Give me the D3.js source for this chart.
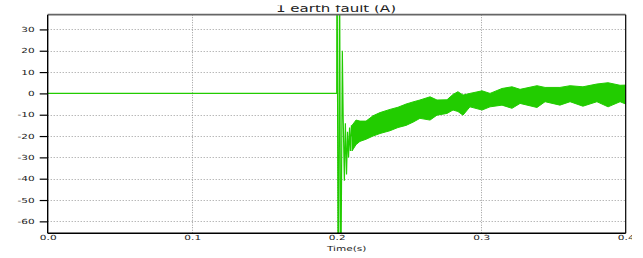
<!DOCTYPE html>
<html>
<head>
<meta charset="utf-8">
<script src="https://cdn.jsdelivr.net/npm/d3@7"></script>
<style>
  html, body { margin: 0; padding: 0; background: #fff; }
  svg { display: block; }
  text { font-family: "DejaVu Sans", sans-serif; }
</style>
</head>
<body>
<svg id="chart" width="643" height="258"></svg>
<script>
// ---- data ----
const titleText = "1 earth fault (A)";
const xAxisLabel = "Time(s)";
const xTicks = [0.0, 0.1, 0.2, 0.3, 0.4];
const xTickLabels = ["0.0", "0.1", "0.2", "0.3", "0.4"];
const yTicks = [30, 20, 10, 0, -10, -20, -30, -40, -50, -60];
const yTickLabels = ["30", "20", "10", "0", "-10", "-20", "-30", "-40", "-50", "-60"];

// pre-fault and transient trace (time s, current A)
const traceTime  = [0.0, 0.2000, 0.2002, 0.2011, 0.2020, 0.2028, 0.2039, 0.2045, 0.2053, 0.2060, 0.2068, 0.2075, 0.2082, 0.2089, 0.2095, 0.2102, 0.2106];
const traceValue = [0,   0,      90,     -120,   60,     -100,   20,     -12,    -41,    -14,    -38,    -18,    -30,    -16,    -27,    -15,    -20];

// post-fault oscillation envelope (dense ripple band)
const bandTime  = [0.2106, 0.2134, 0.2161, 0.2203, 0.2251, 0.2300, 0.2369, 0.2424, 0.2480, 0.2528, 0.2576, 0.2646, 0.2694, 0.2763, 0.2805, 0.2839, 0.2874, 0.2922, 0.3006, 0.3061, 0.3144, 0.3213, 0.3269, 0.3386, 0.3442, 0.3545, 0.3615, 0.3704, 0.3801, 0.3878, 0.3961, 0.4000];
const bandUpper = [-15,    -12.5,  -13,    -13,    -10.5,  -9,     -7.5,   -6.5,   -5,     -4,     -3.1,   -1.6,   -3.1,   -3,     -0.5,   0.8,    -0.8,   0,      1.2,    0,      2.3,    3.1,    1.9,    3.6,    2.8,    2.8,    3.6,    3.1,    4.4,    5,      3.8,    3.9];
const bandLower = [-27,    -24,    -22.5,  -21.5,  -20,    -18.8,  -17.5,  -16,    -15,    -13.5,  -11.7,  -12.5,  -10.2,  -9.4,   -7.8,   -8.5,   -10.2,  -6.3,   -7.8,   -6.3,   -5.5,   -7,     -4.7,   -6.6,   -3.9,   -5.5,   -3.9,   -6,     -3.9,   -6.3,   -3.9,   -5];

// ---- layout ----
const svg = d3.select("#chart");
const L = 47.7, R = 625.7, T = 14.7, B = 233.3;
const x = d3.scaleLinear().domain([0, 0.4]).range([L, R]);
const y = d3.scaleLinear().domain([-65.6, 36.9]).range([B, T]);
const green = "#22cc00";

svg.append("rect").attr("width", 643).attr("height", 258).attr("fill", "#fff");

const defs = svg.append("defs");
defs.append("clipPath").attr("id", "plotClip")
  .append("rect").attr("x", L).attr("y", T).attr("width", R - L).attr("height", B - T);
defs.append("clipPath").attr("id", "titleClip")
  .append("rect").attr("x", 0).attr("y", 5.2).attr("width", 643).attr("height", 10);
defs.append("clipPath").attr("id", "xAxisClip")
  .append("rect").attr("x", 0).attr("y", 0).attr("width", 632).attr("height", 258);

// grid
const grid = svg.append("g").attr("clip-path", "url(#plotClip)");
grid.selectAll("line.h").data(yTicks).join("line")
  .attr("x1", L).attr("x2", R)
  .attr("y1", d => Math.round(y(d)) + 0.5).attr("y2", d => Math.round(y(d)) + 0.5)
  .attr("stroke", "#9a9a9a").attr("stroke-width", 1).attr("stroke-dasharray", "1,2");
grid.selectAll("line.v").data(xTicks.filter(d => d > 0 && d < 0.4)).join("line")
  .attr("x1", d => Math.round(x(d)) + 0.5).attr("x2", d => Math.round(x(d)) + 0.5)
  .attr("y1", T).attr("y2", B)
  .attr("stroke", "#9a9a9a").attr("stroke-width", 1).attr("stroke-dasharray", "1,1.5");

// data
const plot = svg.append("g").attr("clip-path", "url(#plotClip)");
const band = bandTime.map((t, i) => ({ t, u: bandUpper[i], l: bandLower[i] }));
plot.append("path").datum(band)
  .attr("fill", green).attr("stroke", green).attr("stroke-width", 1)
  .attr("d", d3.area().x(d => x(d.t)).y0(d => y(d.l)).y1(d => y(d.u)));
const trace = traceTime.map((t, i) => ({ t, v: traceValue[i] }));
plot.append("path").datum(trace)
  .attr("fill", "none").attr("stroke", green).attr("stroke-width", 1.2)
  .attr("d", d3.line().x(d => x(d.t)).y(d => y(d.v)));

// stretch helper (the reference font is wide and short)
function stretch(sel, k) {
  sel.each(function () {
    const w = this.getComputedTextLength();
    d3.select(this).attr("textLength", w * k).attr("lengthAdjust", "spacingAndGlyphs");
  });
}

// y axis
const yAxis = svg.append("g").attr("transform", `translate(${L},0)`)
  .call(d3.axisLeft(y).tickValues(yTicks).tickSize(8).tickPadding(5)
    .tickFormat((d, i) => yTickLabels[i]));
yAxis.select(".domain").remove();
yAxis.selectAll(".tick line").attr("stroke", "#000").attr("stroke-width", 1.2);
yAxis.selectAll("text").attr("font-size", 7).attr("fill", "#222").attr("font-family", "DejaVu Sans");
stretch(yAxis.selectAll("text"), 1.5);

// x axis
const xAxis = svg.append("g").attr("transform", `translate(0,${B})`).attr("clip-path", "url(#xAxisClip)")
  .call(d3.axisBottom(x).tickValues(xTicks).tickSize(0).tickPadding(2)
    .tickFormat((d, i) => xTickLabels[i]));
xAxis.select(".domain").remove();
xAxis.selectAll("text").attr("font-size", 7).attr("fill", "#222").attr("font-family", "DejaVu Sans");
stretch(xAxis.selectAll("text"), 1.5);

// frame
svg.append("line").attr("x1", L).attr("x2", R).attr("y1", T).attr("y2", T)
  .attr("stroke", "#666").attr("stroke-width", 1.8);
svg.append("line").attr("x1", L).attr("x2", L).attr("y1", T).attr("y2", B)
  .attr("stroke", "#000").attr("stroke-width", 1.4);
svg.append("line").attr("x1", L).attr("x2", R).attr("y1", B).attr("y2", B)
  .attr("stroke", "#000").attr("stroke-width", 1.4);
svg.append("line").attr("x1", R).attr("x2", R).attr("y1", T).attr("y2", B)
  .attr("stroke", "#000").attr("stroke-width", 1.2);

// axis label
const xl = svg.append("text").attr("x", 346.7).attr("y", 251).attr("text-anchor", "middle")
  .attr("font-size", 7).attr("fill", "#222").text(xAxisLabel);
stretch(xl, 1.5);

// title (clipped at its top like the reference)
svg.append("g").attr("clip-path", "url(#titleClip)")
  .append("text").attr("x", 276).attr("y", 11.7)
  .attr("font-size", 11).attr("fill", "#222")
  .attr("textLength", 120).attr("lengthAdjust", "spacingAndGlyphs")
  .text(titleText);
</script>
</body>
</html>
